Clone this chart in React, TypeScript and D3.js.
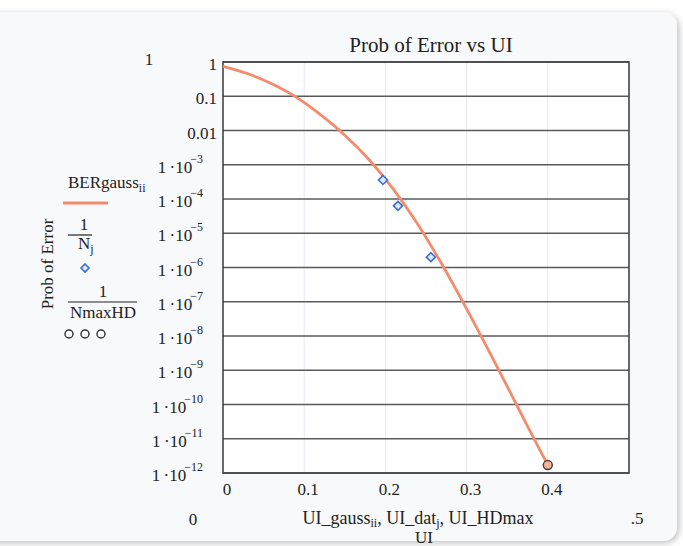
import React from "react";
import * as d3 from "d3";

const curveUI = [0, 0.03, 0.06, 0.09, 0.12, 0.15, 0.18, 0.21, 0.24, 0.27, 0.3, 0.33, 0.36, 0.39, 0.4];
const curveBER = [0.75, 0.46, 0.23, 0.094, 0.029, 7.3e-3, 1.4e-3, 1.9e-4, 1.8e-5, 1.2e-6, 6.2e-8, 2.8e-9, 1.16e-10, 4.8e-12, 1.7e-12];
const datUI = [0.197, 0.2155, 0.256];
const datBER = [3.6e-4, 6.3e-5, 2e-6];
const hdUI = [0.4];
const hdBER = [1.7e-12];
const xTicks = [0, 0.1, 0.2, 0.3, 0.4];
const yExps = [0, -1, -2, -3, -4, -5, -6, -7, -8, -9, -10, -11, -12];

const W = 683, H = 546;
const L = 223, R = 629, T = 62, B = 473;
const serif = "'Liberation Serif', 'DejaVu Serif', serif";

export default function App() {
  const x = d3.scaleLinear().domain([0, 0.5]).range([L, R]);
  const y = d3.scaleLog().domain([1e-12, 1]).range([B, T]);
  const line = d3
    .line<number>()
    .x((_, i) => x(curveUI[i]))
    .y((d) => y(d))
    .curve(d3.curveMonotoneX);
  const orange = "#f68b6c";
  const ink = "#222";

  return (
    <svg width={W} height={H} style={{ position: "absolute", left: 0, top: 0 }} fontFamily={serif}>
      <defs>
        <filter id="sh" x="-5%" y="-5%" width="110%" height="110%">
          <feDropShadow dx={2} dy={2} stdDeviation={3} floodColor="#000" floodOpacity={0.25} />
        </filter>
      </defs>
      <rect x={0} y={0} width={W} height={H} fill="#ffffff" />
      <rect x={-30} y={12} width={707} height={529} rx={14} fill="#f8f9fb" filter="url(#sh)" />

      <text x={431} y={52} fontSize={21} textAnchor="middle" fill={ink}>Prob of Error vs UI</text>

      {/* plot background */}
      <rect x={L} y={T} width={R - L} height={B - T} fill="#ffffff" />
      {xTicks.slice(1).map((t) => (
        <line key={t} x1={x(t)} x2={x(t)} y1={T} y2={B} stroke="#e6eaef" strokeWidth={1} />
      ))}
      {yExps.map((e) => (
        <line key={e} x1={L} x2={R} y1={y(Math.pow(10, e))} y2={y(Math.pow(10, e))} stroke="#5a5a5a" strokeWidth={1.6} />
      ))}
      <rect x={L} y={T} width={R - L} height={B - T} fill="none" stroke="#444" strokeWidth={1.6} />

      <path d={line(curveBER) || ""} fill="none" stroke={orange} strokeWidth={2.8} strokeLinejoin="round" />

      {datUI.map((u, i) => {
        const cx = x(u), cy = y(datBER[i]);
        return (
          <path key={i} d={`M${cx},${cy - 4.5}L${cx + 4.5},${cy}L${cx},${cy + 4.5}L${cx - 4.5},${cy}Z`}
            fill="#dfe8f7" stroke="#3b6fd6" strokeWidth={1.6} />
        );
      })}
      {hdUI.map((u, i) => (
        <circle key={i} cx={x(u)} cy={y(hdBER[i])} r={4.5} fill="#f6b49b" stroke="#444" strokeWidth={1.5} />
      ))}

      {/* y tick labels */}
      {yExps.map((e) => {
        const yy = y(Math.pow(10, e)) + 8;
        if (e > -3) {
          return (
            <text key={e} x={217} y={yy} fontSize={17} textAnchor="end" fill={ink}>
              {e === 0 ? "1" : e === -1 ? "0.1" : "0.01"}
            </text>
          );
        }
        return (
          <text key={e} x={203} y={yy} fontSize={17} textAnchor="end" fill={ink}>
            <tspan>{"1\u2009·10"}</tspan>
            <tspan fontSize={12} dy={-10} dx={-2}>{"\u2212" + -e}</tspan>
          </text>
        );
      })}
      {/* x tick labels */}
      {xTicks.map((t) => (
        <text key={t} x={x(t) + 4} y={495} fontSize={17} textAnchor="middle" fill={ink}>
          {t === 0 ? "0" : d3.format(".1f")(t)}
        </text>
      ))}

      {/* limit labels */}
      <text x={149} y={65} fontSize={17} textAnchor="middle" fill={ink}>1</text>
      <text x={193} y={525} fontSize={17} textAnchor="middle" fill={ink}>0</text>
      <text x={637} y={524} fontSize={17} textAnchor="middle" fill={ink}>.5</text>

      {/* x axis label */}
      <text x={418} y={524} fontSize={18} textAnchor="middle" fill={ink}>
        <tspan>UI_gauss</tspan>
        <tspan fontSize={12} dy={3}>ii</tspan>
        <tspan dy={-3}>, UI_dat</tspan>
        <tspan fontSize={12} dy={3}>j</tspan>
        <tspan dy={-3}>, UI_HDmax</tspan>
      </text>
      <text x={424} y={543} fontSize={17} textAnchor="middle" fill={ink}>UI</text>

      {/* y axis title */}
      <text transform="translate(53,264) rotate(-90)" fontSize={17} textAnchor="middle" fill={ink}>Prob of Error</text>

      {/* legend */}
      <text x={68} y={188} fontSize={17} fill={ink}>
        <tspan>BERgauss</tspan>
        <tspan fontSize={12} dy={4}>ii</tspan>
      </text>
      <line x1={63} x2={108} y1={203} y2={203} stroke={orange} strokeWidth={3} />
      <text x={84} y={230} fontSize={17} textAnchor="middle" fill={ink}>1</text>
      <line x1={68} x2={92} y1={235} y2={235} stroke={ink} strokeWidth={1.2} />
      <text x={78} y={249} fontSize={17} fill={ink}>
        <tspan>N</tspan>
        <tspan fontSize={12} dy={4}>j</tspan>
      </text>
      <path d="M85,264L89,268L85,272L81,268Z" fill="#dfe8f7" stroke="#3b6fd6" strokeWidth={1.6} />
      <text x={103} y={297} fontSize={17} textAnchor="middle" fill={ink}>1</text>
      <line x1={68} x2={137} y1={302} y2={302} stroke={ink} strokeWidth={1.2} />
      <text x={103} y={318} fontSize={17} textAnchor="middle" fill={ink}>NmaxHD</text>
      {[69, 85, 101].map((cx) => (
        <circle key={cx} cx={cx} cy={334} r={4} fill="none" stroke="#333" strokeWidth={1.4} />
      ))}
    </svg>
  );
}
